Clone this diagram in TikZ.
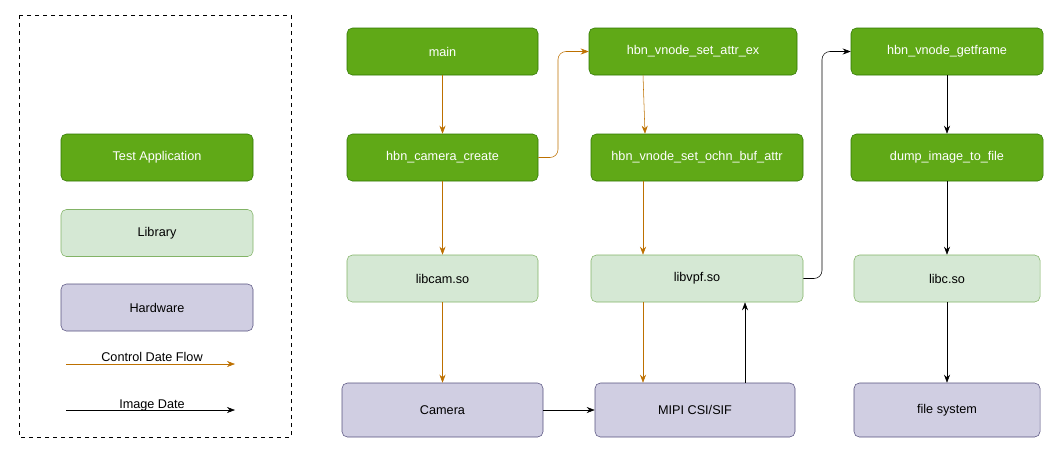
\documentclass[tikz,border=0pt]{standalone}
\usepackage{fontspec}
\setmainfont{Liberation Sans}
\usetikzlibrary{arrows.meta}
\definecolor{appf}{HTML}{60A917}\definecolor{appd}{HTML}{2D7600}
\definecolor{libf}{HTML}{D5E8D4}\definecolor{libd}{HTML}{82B366}
\definecolor{hwf}{HTML}{D0CEE2}\definecolor{hwd}{HTML}{56517E}
\definecolor{ctl}{HTML}{BD7000}
\begin{document}
\begin{tikzpicture}[x=0.75pt,y=-0.75pt,font=\fontsize{9.5pt}{11pt}\selectfont,
 box/.style={rounded corners=4pt,minimum height=35.25pt,inner sep=0pt},
 app/.style={box,fill=appf,draw=appd,text=white},
 lib/.style={box,fill=libf,draw=libd},
 hw/.style={box,fill=hwf,draw=hwd,minimum height=40.5pt},
 ca/.style={draw=ctl,-{Stealth[length=6pt]}},
 ia/.style={draw=black,-{Stealth[length=6pt]}}]
\useasboundingbox (0,0) rectangle (1062,451);
\draw[dashed] (19,15) rectangle (291,437);
\node[app,minimum width=144pt] (la) at (157,157.5) {Test Application};
\node[lib,minimum width=144pt] (ll) at (157,233) {Library};
\node[hw,minimum width=144pt,minimum height=35.25pt] (lh) at (157,307.5) {Hardware};
\coordinate (c1) at (66,364); \coordinate (c2) at (235,364);
\draw[ca] (c1) -- (c2);
\node at (152,357) {Control Date Flow};
\coordinate (i1) at (66,410); \coordinate (i2) at (235,410);
\draw[ia] (i1) -- (i2);
\node at (152,405) {Image Date};
\node[app,minimum width=143.25pt] (main) at (442.5,51.5) {main};
\node[app,minimum width=143.25pt] (cc) at (442.5,157.5) {hbn\_camera\_create};
\node[lib,minimum width=143.25pt] (cam) at (442.5,278.5) {libcam.so};
\node[hw,minimum width=150.75pt] (camera) at (442.5,410) {Camera};
\node[app,minimum width=156pt] (sa) at (693,51.5) {hbn\_vnode\_set\_attr\_ex};
\node[app,minimum width=159pt] (sb) at (697,157.5) {hbn\_vnode\_set\_ochn\_buf\_attr};
\node[lib,minimum width=159pt] (vpf) at (697,278.5) {libvpf.so};
\node[hw,minimum width=150pt] (mipi) at (695,410) {MIPI CSI/SIF};
\node[app,minimum width=144pt] (gf) at (947,51.5) {hbn\_vnode\_getframe};
\node[app,minimum width=144pt] (dump) at (947,157.5) {dump\_image\_to\_file};
\node[lib,minimum width=139.5pt] (libc) at (947,278.5) {libc.so};
\node[hw,minimum width=139.5pt] (fs) at (947,410) {file system};
\draw[ca] (main) -- (cc);
\draw[ca] (cc) -- (cam);
\draw[ca] (cam) -- (camera);
\draw[ca,rounded corners=6pt] (cc.east) -- (558,157.5) -- (558,51.5) -- (sa.west);
\draw[ca] (sa.south -| 643,0) -- (sb.north -| 645,0);
\draw[ca] (sb.south -| 643,0) -- (vpf.north -| 643,0);
\draw[ca] (vpf.south -| 643,0) -- (mipi.north -| 643,0);
\draw[ia] (camera) -- (mipi);
\draw[ia] (mipi.north -| 745,0) -- (vpf.south -| 745,0);
\draw[ia,rounded corners=6pt] (vpf.east) -- (822,278.5) -- (822,51.5) -- (gf.west);
\draw[ia] (gf) -- (dump);
\draw[ia] (dump) -- (libc);
\draw[ia] (libc) -- (fs);
\end{tikzpicture}
\end{document}
